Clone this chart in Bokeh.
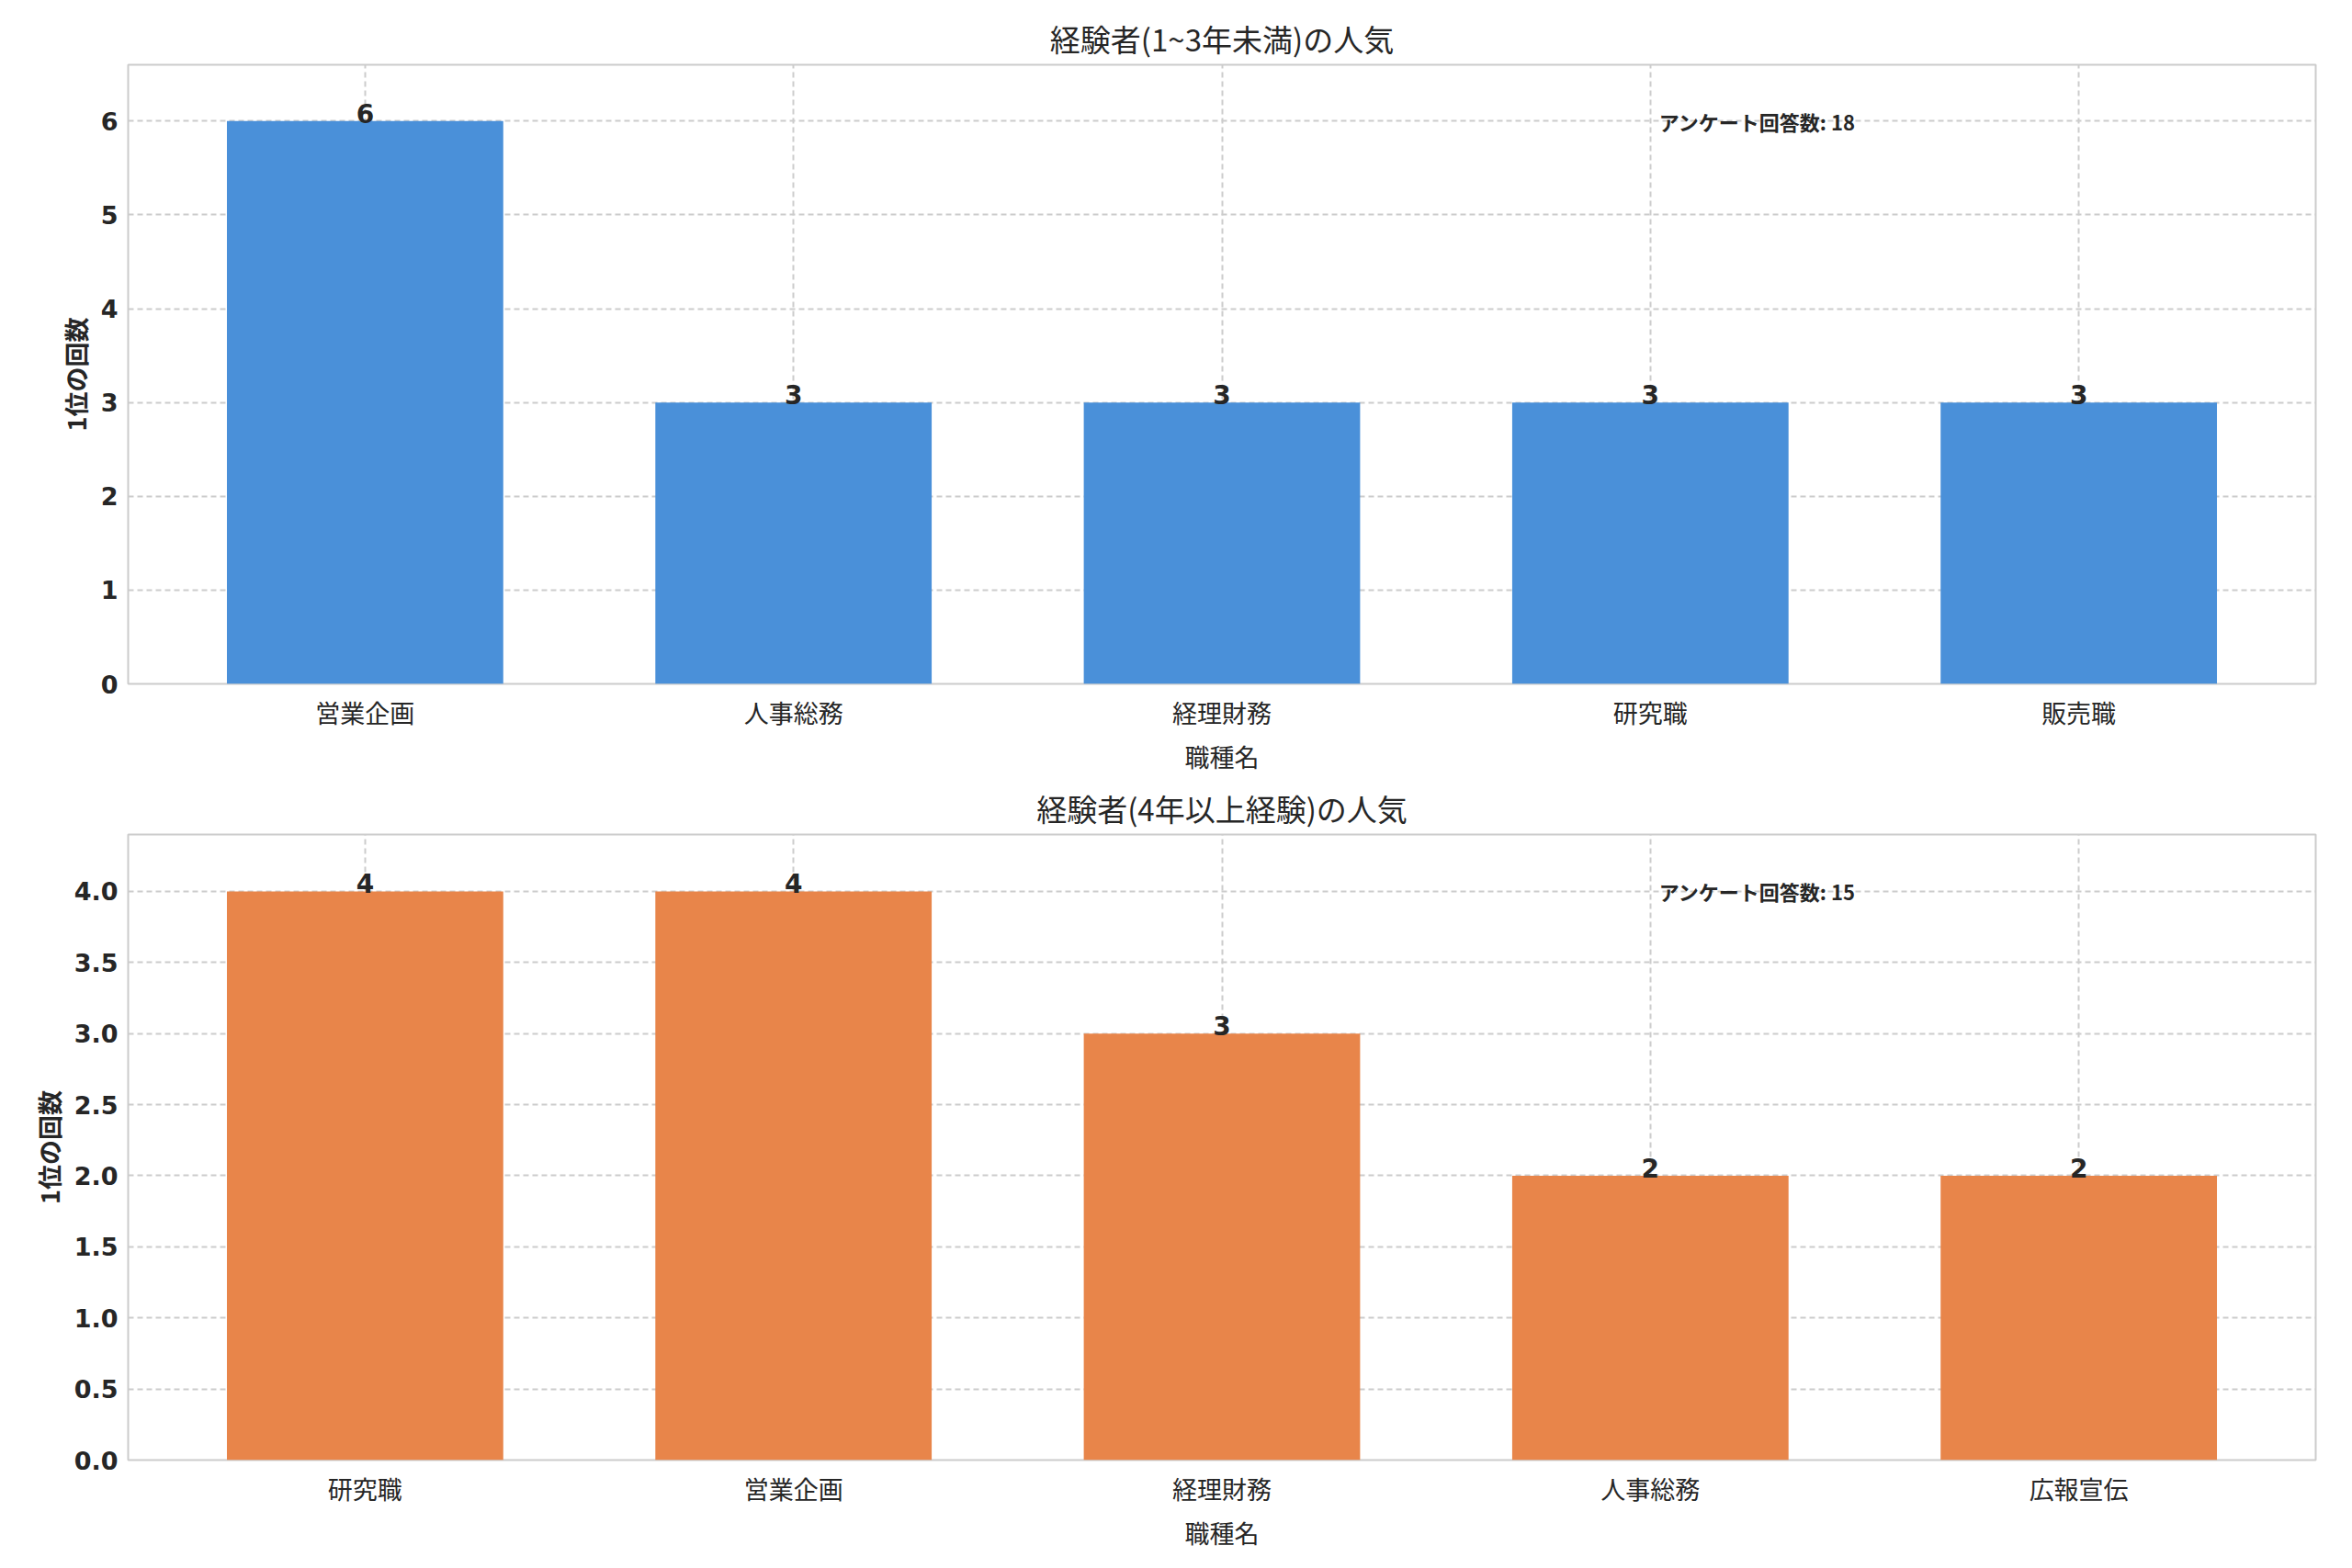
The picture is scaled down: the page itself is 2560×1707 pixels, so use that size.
from bokeh.plotting import figure
from bokeh.layouts import column
from bokeh.models import FixedTicker, Range1d, ColumnDataSource
from bokeh.core.properties import value
from bokeh.embed import file_html
from bokeh.resources import INLINE

title1 = "経験者(1~3年未満)の人気"
title2 = "経験者(4年以上経験)の人気"
cats1 = ["営業企画", "人事総務", "経理財務", "研究職", "販売職"]
vals1 = [6, 3, 3, 3, 3]
cats2 = ["研究職", "営業企画", "経理財務", "人事総務", "広報宣伝"]
vals2 = [4, 4, 3, 2, 2]
total1 = 18
total2 = 15
ylabel = "1位の回数"
xlabel = "職種名"
note_label = "アンケート回答数"
yticks1 = [0, 1, 2, 3, 4, 5, 6]
yticks2 = [0, 0.5, 1.0, 1.5, 2.0, 2.5, 3.0, 3.5, 4.0]

CJK = "Noto Sans CJK JP"

def make(title, cats, vals, total, color, ymax, yticks, fmt, top_border):
    p = figure(width=2544, height=845, output_backend="svg", toolbar_location=None,
               x_range=Range1d(-0.553, 4.553), y_range=Range1d(0, ymax),
               min_border_left=139, min_border_right=24, min_border_top=top_border,
               min_border_bottom=90, title=title)
    p.title.text_font = CJK
    p.title.text_font_size = "33px"
    p.title.text_font_style = "normal"
    p.title.text_color = "#262626"
    p.title.align = "center"
    xs = list(range(len(cats)))
    src = ColumnDataSource(dict(x=xs, top=vals, lab=[str(v) for v in vals]))
    p.vbar(x="x", top="top", width=0.645, source=src, color=color, line_color=None)
    p.text(x="x", y="top", text="lab", source=src, text_align="center", text_baseline="bottom",
           text_font=value("DejaVu Sans"), text_font_style="bold", text_font_size="28px",
           text_color="#262626", y_offset=2)
    p.text(x=[3.02], y=[max(vals)], text=[f"{note_label}: {total}"], text_align="left",
           text_baseline="middle", text_font=value(CJK), text_font_style="bold",
           text_font_size="22px", text_color="#262626")
    p.xaxis.ticker = FixedTicker(ticks=xs)
    p.xaxis.major_label_overrides = {i: c for i, c in enumerate(cats)}
    p.xaxis.major_label_text_font = CJK
    p.xaxis.major_label_text_font_size = "27px"
    p.xaxis.major_label_text_color = "#262626"
    p.xaxis.axis_label = xlabel
    p.xaxis.axis_label_text_font = CJK
    p.xaxis.axis_label_text_font_size = "27px"
    p.xaxis.axis_label_text_font_style = "normal"
    p.xaxis.axis_label_standoff = 6
    p.yaxis.ticker = FixedTicker(ticks=yticks)
    p.yaxis.major_label_overrides = {t: fmt(t) for t in yticks}
    p.yaxis.major_label_text_font = "DejaVu Sans"
    p.yaxis.major_label_text_font_style = "bold"
    p.yaxis.major_label_text_font_size = "27px"
    p.yaxis.major_label_text_color = "#262626"
    p.yaxis.axis_label = ylabel
    p.yaxis.axis_label_text_font = CJK
    p.yaxis.axis_label_text_font_size = "27px"
    p.yaxis.axis_label_text_font_style = "bold"
    for ax in (p.xaxis, p.yaxis):
        ax.axis_line_color = None
        ax.major_tick_line_color = None
        ax.minor_tick_line_color = None
        ax.axis_label_text_color = "#262626"
    p.grid.grid_line_color = "#cccccc"
    p.grid.grid_line_dash = "6 4"
    p.grid.grid_line_width = 2
    p.outline_line_color = "#cccccc"
    p.outline_line_width = 2
    return p

p1 = make(title1, cats1, vals1, total1, "#4a90d9", 6.6, yticks1, lambda t: str(int(t)), 70)
p2 = make(title2, cats2, vals2, total2, "#e8854a", 4.4, yticks2, lambda t: f"{t:.1f}", 63)
layout = column(p1, p2, spacing=0)
open("out.html", "w").write(file_html(layout, INLINE))
